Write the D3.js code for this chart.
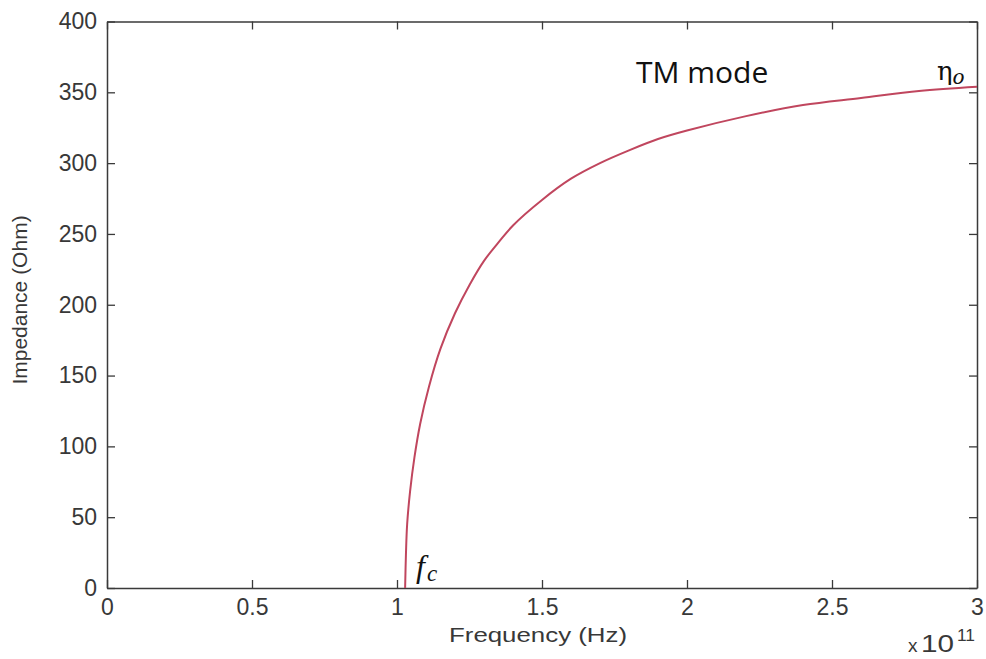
<!DOCTYPE html>
<html>
<head>
<meta charset="utf-8">
<script src="https://cdn.jsdelivr.net/npm/d3@7"></script>
<style>
  body { margin: 0; background: #fff; }
  svg { display: block; }
  .tick text { font-family: "Liberation Sans", Arial, sans-serif; font-size: 23px; fill: #383838; }
  .axis-title { font-family: "Liberation Sans", Arial, sans-serif; fill: #383838; }
</style>
</head>
<body>
<div id="chart"></div>
<script>
// frequency in units of 1e11 Hz
const freq = [1.028, 1.031, 1.035, 1.045, 1.06, 1.08, 1.11, 1.15, 1.2, 1.25,
  1.3, 1.35, 1.4, 1.5, 1.6, 1.7, 1.8, 1.9, 2.0, 2.2, 2.4, 2.6, 2.8, 3.0];
// impedance in Ohm at those frequencies
const impedance = [0, 25, 45, 68, 92, 116, 142, 169, 194, 214,
  231, 244, 256, 274, 289, 300, 309, 317, 323, 333, 341, 346, 351, 354];

const xTicks = [0, 0.5, 1, 1.5, 2, 2.5, 3];
const yTicks = [0, 50, 100, 150, 200, 250, 300, 350, 400];

const width = 986, height = 659;
const margin = { top: 21.5, right: 9, bottom: 71, left: 107 };
const w = width - margin.left - margin.right;
const h = height - margin.top - margin.bottom;

const svg = d3.select("#chart").append("svg")
  .attr("width", width)
  .attr("height", height);

const chart = svg.append("g")
  .attr("transform", `translate(${margin.left},${margin.top})`);

const xScale = d3.scaleLinear().domain([0, 3]).range([0, w]);
const yScale = d3.scaleLinear().domain([0, 400]).range([h, 0]);

const axisColor = "#3a3a3a";

// bottom and left axes with labels, ticks pointing inwards
const xAxisG = chart.append("g")
  .attr("transform", `translate(0,${h})`)
  .call(d3.axisBottom(xScale).tickValues(xTicks).tickFormat(d3.format("")).tickSize(-8).tickSizeOuter(0));
xAxisG.selectAll(".tick text").attr("y", 27).attr("dy", 0);

const yAxisG = chart.append("g")
  .call(d3.axisLeft(yScale).tickValues(yTicks).tickSize(-8).tickSizeOuter(0));
yAxisG.selectAll(".tick text").attr("x", -10);

// top and right axes, ticks only
const topG = chart.append("g")
  .call(d3.axisTop(xScale).tickValues(xTicks).tickFormat("").tickSize(-8).tickSizeOuter(0));
const rightG = chart.append("g")
  .attr("transform", `translate(${w},0)`)
  .call(d3.axisRight(yScale).tickValues(yTicks).tickFormat("").tickSize(-8).tickSizeOuter(0));

[xAxisG, yAxisG, topG, rightG].forEach((g) => {
  g.select(".domain").attr("stroke", axisColor).attr("stroke-width", 1.5);
  g.selectAll(".tick line").attr("stroke", axisColor).attr("stroke-width", 1.3);
});

// impedance curve
const line = d3.line()
  .x((d, i) => xScale(freq[i]))
  .y((d) => yScale(d))
  .curve(d3.curveCatmullRom.alpha(0.5));

chart.append("path")
  .datum(impedance)
  .attr("fill", "none")
  .attr("stroke", "#c0465e")
  .attr("stroke-width", 2)
  .attr("d", line);

// axis titles
svg.append("text")
  .attr("class", "axis-title")
  .attr("x", 449)
  .attr("y", 642)
  .attr("font-size", 21)
  .attr("textLength", 178)
  .attr("lengthAdjust", "spacingAndGlyphs")
  .text("Frequency (Hz)");

svg.append("text")
  .attr("class", "axis-title")
  .attr("transform", "translate(27,300) rotate(-90)")
  .attr("text-anchor", "middle")
  .attr("font-size", 21)
  .text("Impedance (Ohm)");

// x 10^11 multiplier
svg.append("text")
  .attr("class", "axis-title")
  .attr("x", 908).attr("y", 652)
  .attr("font-size", 19)
  .text("x");
svg.append("text")
  .attr("class", "axis-title")
  .attr("x", 921).attr("y", 652)
  .attr("font-size", 23)
  .attr("textLength", 33)
  .attr("lengthAdjust", "spacingAndGlyphs")
  .text("10");
svg.append("text")
  .attr("class", "axis-title")
  .attr("x", 957).attr("y", 641)
  .attr("font-size", 17)
  .attr("textLength", 18)
  .attr("lengthAdjust", "spacingAndGlyphs")
  .text("11");

// annotations
svg.append("text")
  .attr("x", 636)
  .attr("y", 83)
  .attr("font-family", "'Open Sans', 'Noto Sans', sans-serif")
  .attr("font-size", 30)
  .attr("fill", "#111")
  .text("TM mode");

const eta = svg.append("text")
  .attr("x", 937)
  .attr("y", 80)
  .attr("font-family", "'DejaVu Serif', 'Liberation Serif', serif")
  .attr("font-size", 26)
  .attr("fill", "#111");
eta.append("tspan").text("η");
eta.append("tspan").attr("font-style", "italic").attr("font-size", 20).attr("dy", 4).text("o");

const fc = svg.append("text")
  .attr("x", 416)
  .attr("y", 577)
  .attr("font-family", "'Liberation Serif', 'DejaVu Serif', serif")
  .attr("font-style", "italic")
  .attr("font-size", 32)
  .attr("fill", "#111");
fc.append("tspan").text("f");
fc.append("tspan").attr("font-size", 23).attr("dy", 4).attr("dx", 2).text("c");
</script>
</body>
</html>
